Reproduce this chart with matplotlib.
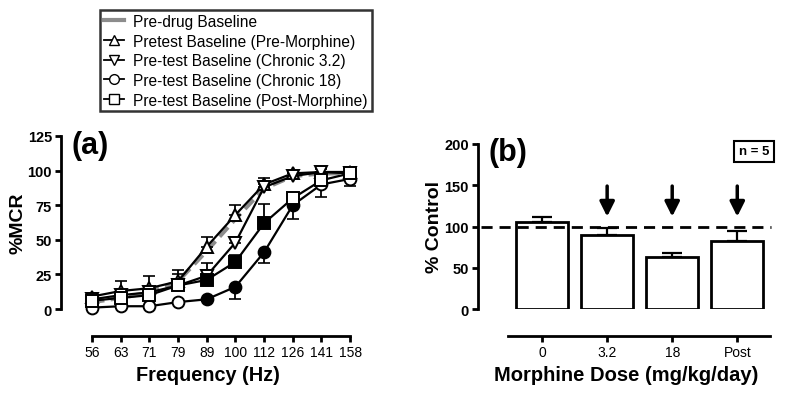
import numpy as np
import matplotlib.pyplot as plt
from matplotlib.lines import Line2D

plt.rcParams['font.family'] = ['Liberation Sans', 'DejaVu Sans']

freqs = ["56", "63", "71", "79", "89", "100", "112", "126", "141", "158"]

predrug = [5, 8, 12, 20, 42, 65, 87, 96, 98, 98]
pre_morph = [9, 13, 15, 20, 45, 68, 90, 98, 99, 99]
pre_morph_up = [2, 7, 9, 8, 7, 7, 5, 2, 2, 2]
chronic32 = [7, 10, 12, 17, 24, 48, 88, 96, 99, 98]
chronic32_up = [2, 3, 3, 3, 4, 4, 4, 2, 3, 2]
chronic18 = [1, 2, 2, 5, 7, 16, 41, 75, 90, 94]
chronic18_dn = [1, 1, 1, 1, 1, 9, 8, 10, 9, 5]
chronic18_filled = [False, False, False, False, True, True, True, True, False, False]
post_morph = [6, 8, 10, 17, 21, 34, 62, 80, 93, 98]
post_morph_up = [2, 3, 3, 8, 12, 5, 14, 4, 4, 4]
post_morph_filled = [False, False, False, False, True, True, True, False, False, False]

doses = ["0", "3.2", "18", "Post"]
pct_control = [105, 90, 63, 82]
pct_err = [6, 8, 5, 12]
arrow_doses = [1, 2, 3]

fig = plt.figure(figsize=(8, 4.02), dpi=100)
W, H = 800, 402
PX = 72 / 100  # points per pixel

def ax_rect(l, r, t, b):
    return [l / W, 1 - b / H, (r - l) / W, (b - t) / H]

# ---- panel (a)
ax = fig.add_axes(ax_rect(61, 355, 137, 310))
x = np.arange(len(freqs))
ax.plot(x, predrug, '--', color='#8c8c8c', lw=3, zorder=2, dashes=(3, 1.5))

def series(y, marker, err, lower=False, filled=None):
    y = np.array(y)
    if lower:
        yerr = [err, np.zeros(len(err))]
    else:
        yerr = [np.zeros(len(err)), err]
    ax.errorbar(x, y, yerr=yerr, fmt='none', ecolor='k', elinewidth=1.3,
                capsize=4.5, capthick=1.2, zorder=3, clip_on=False)
    ax.plot(x, y, '-', color='k', lw=1.6, zorder=3, clip_on=False)
    if filled is None:
        filled = [False] * len(y)
    for xi, yi, f in zip(x, y, filled):
        ax.plot(xi, yi, marker=marker, ms=8.5, mec='k', mew=1.4,
                mfc='k' if f else 'white', zorder=4, clip_on=False)

series(pre_morph, '^', pre_morph_up)
series(chronic32, 'v', chronic32_up)
series(chronic18, 'o', chronic18_dn, lower=True, filled=chronic18_filled)
series(post_morph, 's', post_morph_up, filled=post_morph_filled)

ax.set_xlim(-1.08, 9.17)
ax.set_ylim(0, 125)
ax.set_xticks(x)
ax.set_xticklabels(freqs, fontsize=11.5, fontweight='bold')
ax.set_yticks([0, 25, 50, 75, 100, 125])
ax.set_yticklabels(['0', '25', '50', '75', '100', '125'], fontsize=10.5, fontweight='bold')
for s in ['top', 'right']:
    ax.spines[s].set_visible(False)
ax.spines['bottom'].set_position(('outward', 27 * PX))
ax.spines['bottom'].set_bounds(0, 9)
ax.spines['left'].set_bounds(0, 125)
for s in ['bottom', 'left']:
    ax.spines[s].set_linewidth(2)
ax.tick_params(width=2, length=4, pad=2.5)
ax.set_xlabel('Frequency (Hz)', fontsize=14.3, fontweight='bold', labelpad=4)
ax.set_ylabel('%MCR', fontsize=14, fontweight='bold', labelpad=1)
ax.text(0.035, 1.035, '(a)', transform=ax.transAxes, fontsize=22,
        fontweight='bold', va='top')

# ---- legend
handles = [
    Line2D([], [], color='#8c8c8c', lw=3),
    Line2D([], [], color='k', lw=1.3, marker='^', mfc='white', mec='k', ms=7),
    Line2D([], [], color='k', lw=1.3, marker='v', mfc='white', mec='k', ms=7),
    Line2D([], [], color='k', lw=1.3, marker='o', mfc='white', mec='k', ms=7),
    Line2D([], [], color='k', lw=1.3, marker='s', mfc='white', mec='k', ms=7),
]
labels = ['Pre-drug Baseline', 'Pretest Baseline (Pre-Morphine)',
          'Pre-test Baseline (Chronic 3.2)', 'Pre-test Baseline (Chronic 18)',
          'Pre-test Baseline (Post-Morphine)']
leg = fig.legend(handles, labels, loc='upper left',
                 bbox_to_anchor=(100 / W, 1 - 11 / H), fontsize=11.2,
                 frameon=True, fancybox=False, handlelength=1.3,
                 handletextpad=0.6, labelspacing=0.3, borderpad=0.25,
                 borderaxespad=0)
leg.get_frame().set_edgecolor('k')
leg.get_frame().set_linewidth(1.8)

# ---- panel (b)
bx = fig.add_axes(ax_rect(478, 775, 145, 310))
xb = np.arange(len(doses))
bx.bar(xb, pct_control, width=0.8, color='white', edgecolor='k', lw=2, zorder=3)
bx.errorbar(xb, pct_control, yerr=[np.zeros(len(pct_err)), pct_err], fmt='none',
            ecolor='k', elinewidth=1.6, capsize=7, capthick=1.6, zorder=2)
bx.axhline(100, xmin=0.01, xmax=0.985, color='k', lw=2, ls=(0, (4, 2.5)), zorder=4)
for i in arrow_doses:
    bx.annotate('', xy=(i, 112), xytext=(i, 149),
                arrowprops=dict(arrowstyle='-|>', color='k', lw=2.5,
                                mutation_scale=22, shrinkA=0, shrinkB=0))
bx.set_xlim(-0.985, 3.58)
bx.set_ylim(0, 200)
bx.set_xticks(xb)
bx.set_xticklabels(doses, fontsize=11.5, fontweight='bold')
bx.set_yticks([0, 50, 100, 150, 200])
bx.set_yticklabels(['0', '50', '100', '150', '200'], fontsize=10.5, fontweight='bold')
for s in ['top', 'right']:
    bx.spines[s].set_visible(False)
bx.spines['bottom'].set_position(('outward', 27 * PX))
bx.spines['bottom'].set_bounds(-0.52, 3.5)
bx.spines['left'].set_bounds(0, 200)
for s in ['bottom', 'left']:
    bx.spines[s].set_linewidth(2)
bx.tick_params(width=2, length=4, pad=2.5)
bx.set_xlabel('Morphine Dose (mg/kg/day)', fontsize=14.5, fontweight='bold', labelpad=4)
bx.set_ylabel('% Control', fontsize=14, fontweight='bold', labelpad=1)
bx.text(0.035, 1.04, '(b)', transform=bx.transAxes, fontsize=22,
        fontweight='bold', va='top')
bx.text(0.93, 0.955, 'n = 5', transform=bx.transAxes, fontsize=9.5,
        fontweight='bold', ha='center', va='center',
        bbox=dict(boxstyle='square,pad=0.35', fc='white', ec='k', lw=1.5))

fig.savefig('out.png', dpi=100)
